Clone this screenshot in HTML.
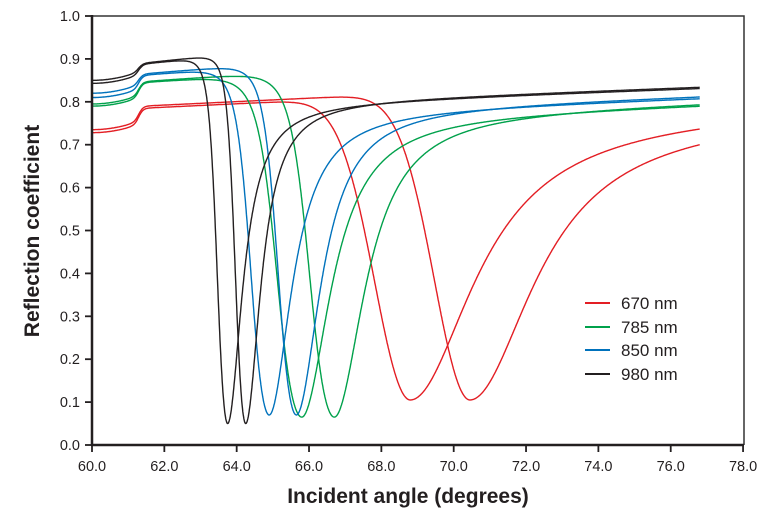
<!DOCTYPE html>
<html><head><meta charset="utf-8"><style>
html,body{margin:0;padding:0;background:#fff;}
svg{display:block;font-family:"Liberation Sans",sans-serif;}
</style></head><body>
<svg id="s" width="772" height="516" viewBox="0 0 772 516" xmlns="http://www.w3.org/2000/svg">
<rect width="772" height="516" fill="#fff"/>
<g id="curves" fill="none" stroke-width="1.4"></g>
<polyline points="92,16 744,16 744,445" fill="none" stroke="#333" stroke-width="1.5"/>
<line x1="92" y1="15" x2="92" y2="446" stroke="#231f20" stroke-width="2.5"/>
<line x1="91" y1="445" x2="744" y2="445" stroke="#231f20" stroke-width="2.5"/>
<g id="ticks" stroke="#231f20" stroke-width="1.8"></g>
<g id="lab" font-size="14.5" fill="#231f20"></g>
<text x="408" y="503" text-anchor="middle" font-size="21" font-weight="bold" fill="#231f20">Incident angle (degrees)</text>
<text transform="translate(39,231) rotate(-90)" text-anchor="middle" font-size="21" font-weight="bold" fill="#231f20">Reflection coefficient</text>
<g font-size="17" fill="#231f20">
<line x1="585" y1="303" x2="610" y2="303" stroke="#e31e24" stroke-width="2"/><text x="621" y="309">670 nm</text>
<line x1="585" y1="327" x2="610" y2="327" stroke="#00a14b" stroke-width="2"/><text x="621" y="333">785 nm</text>
<line x1="585" y1="350" x2="610" y2="350" stroke="#0072bc" stroke-width="2"/><text x="621" y="356">850 nm</text>
<line x1="585" y1="374" x2="610" y2="374" stroke="#231f20" stroke-width="2"/><text x="621" y="380">980 nm</text>
</g>
</svg>
<script>
var NS="http://www.w3.org/2000/svg";
function X(a){return 92+36.17*(a-60);}
function Y(r){return 445-429*r;}
var t=document.getElementById('ticks'),lab=document.getElementById('lab');
function el(p,n,at,txt){var e=document.createElementNS(NS,n);for(var k in at)e.setAttribute(k,at[k]);if(txt)e.textContent=txt;p.appendChild(e);}
for(var i=0;i<=10;i++){var y=Y(i/10);el(t,'line',{x1:85,y1:y,x2:92,y2:y});el(lab,'text',{x:80,y:y+5,'text-anchor':'end'},(i/10).toFixed(1));}
for(var a=60;a<=78;a+=2){var x=X(a);el(t,'line',{x1:x,y1:445,x2:x,y2:452});el(lab,'text',{x:x,y:471,'text-anchor':'middle'},a.toFixed(1));}
// [a0,rmin,wa,wb,wR,s,p,k,f,color]  wb=0 -> gaussian with wa
var C=[
[68.8,0.105,1.4,0,2.1,0.728,0.785,0.004,0.78,'#e31e24'],
[70.45,0.105,1.4,0,2.1,0.735,0.79,0.004,0.765,'#e31e24'],
[65.8,0.065,1.1,1.15,0.95,0.79,0.845,0.006,0.795,'#00a14b'],
[66.7,0.065,1.1,1.15,1.0,0.795,0.847,0.006,0.80,'#00a14b'],
[64.9,0.07,0.8,0.87,0.75,0.81,0.862,0.007,0.81,'#0072bc'],
[65.65,0.07,0.8,0.87,0.8,0.82,0.865,0.007,0.815,'#0072bc'],
[63.75,0.05,0.45,0.5,0.5,0.843,0.888,0.009,0.832,'#231f20'],
[64.25,0.05,0.45,0.5,0.5,0.85,0.89,0.009,0.835,'#231f20']];
var g=document.getElementById('curves');
C.forEach(function(c){
 var pts=[];
 for(var a=60;a<=76.8001;a+=0.01){
  var r;
  var sig=1/(1+Math.exp(-(a-61.3)/0.06));
  var pre=c[5]+0.02*Math.pow((Math.min(a,61.3)-60)/1.3,2);
  var post=c[6]+c[7]*(a-61.4);
  var bl=pre*(1-sig)+post*sig;
  var d=a-c[0];
  if(d<0){var L;
   if(c[3]==0){L=Math.exp(-(d/c[2])*(d/c[2]));}
   else{var ad=-d;var u=ad/c[2]+Math.pow(ad/c[3],3);L=1/(1+u*u);}
   r=bl-(bl-c[1])*L;}
  else{var br=c[8]+0.003*(a-76.8);var q=d/c[4];var L2=1/(1+q*q);
   var bb=br+(c[6]+c[7]*(c[0]-61.4)-br)*Math.exp(-d*4);
   r=bb-(bb-c[1])*L2;}
  pts.push(X(a).toFixed(1)+','+Y(r).toFixed(1));
 }
 el(g,'polyline',{points:pts.join(' '),stroke:c[9]});
});
</script>
</body></html>
